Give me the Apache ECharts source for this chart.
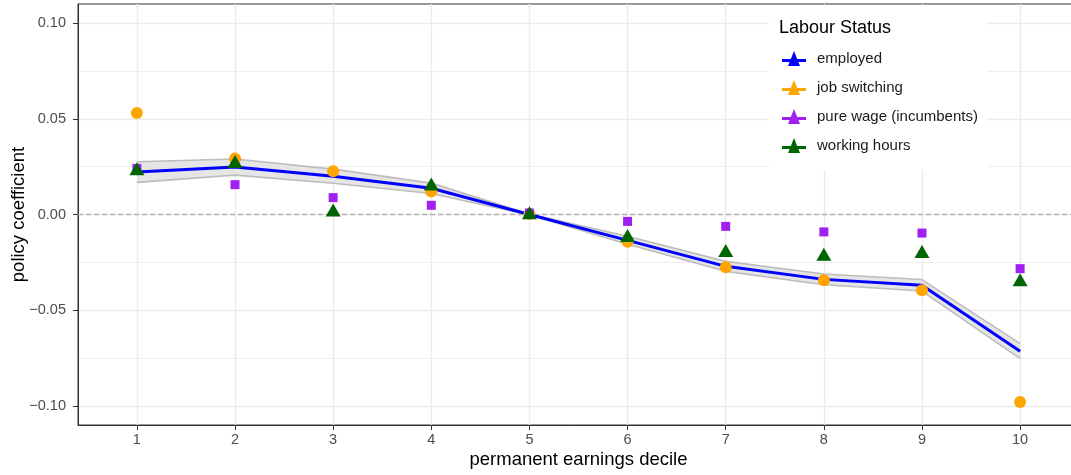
<!DOCTYPE html>
<html>
<head>
<meta charset="utf-8">
<script src="https://cdn.jsdelivr.net/npm/echarts@6/dist/echarts.min.js"></script>
<style>
  html, body { margin: 0; padding: 0; background: #ffffff; }
  #chart { width: 1071px; height: 475px; }
</style>
</head>
<body>
<div id="chart"></div>
<script>
// Policy coefficients by permanent earnings decile
const deciles = [1, 2, 3, 4, 5, 6, 7, 8, 9, 10];
const employed = [0.0222, 0.0248, 0.0200, 0.0137, 0.0000, -0.0135, -0.0271, -0.0339, -0.0370, -0.0714];
const employedLower = [0.0168, 0.0206, 0.0163, 0.0110, -0.0003, -0.0156, -0.0297, -0.0367, -0.0400, -0.0753];
const employedUpper = [0.0276, 0.0290, 0.0237, 0.0164, 0.0003, -0.0114, -0.0245, -0.0311, -0.0340, -0.0675];
const jobSwitching = [0.0530, 0.0292, 0.0226, 0.0120, 0.0002, -0.0143, -0.0276, -0.0344, -0.0396, -0.0980];
const pureWage = [0.0241, 0.0156, 0.0088, 0.0048, 0.0008, -0.0036, -0.0062, -0.0091, -0.0097, -0.0283];
const workingHours = [0.0227, 0.0266, 0.0012, 0.0148, -0.0002, -0.0121, -0.0200, -0.0219, -0.0205, -0.0353];
const yTicks = [-0.1, -0.05, 0, 0.05, 0.1];
const yMinorTicks = [-0.075, -0.025, 0.025, 0.075];
const seriesNames = ['employed', 'job switching', 'pure wage (incumbents)', 'working hours'];

const pairs = (ys) => deciles.map((d, i) => [d, ys[i]]);
const fmtY = (v) => (v < 0 ? '\u2212' : '') + Math.abs(v).toFixed(2);

// legend key: a short line with a triangle on it
const keyIcon = 'path://M0,8 L24,8 L24,11 L0,11 Z M12,0 L18,15 L6,15 Z';

const gridColor = '#ebebeb';
const textGrey = '#4d4d4d';
const font = 'Liberation Sans, Arial, sans-serif';

const chart = echarts.init(document.getElementById('chart'), null, { renderer: 'canvas' });

chart.setOption({
  animation: false,
  backgroundColor: '#ffffff',
  textStyle: { fontFamily: font },
  grid: {
    left: 78, width: 1001, top: 4, bottom: 50,
    outerBoundsMode: 'none', containLabel: false,
    show: true, borderColor: '#333333', borderWidth: 1, backgroundColor: 'transparent'
  },
  title: {
    text: 'Labour Status', left: 774, top: 14,
    textStyle: { fontSize: 18, fontWeight: 'normal', color: '#000000', fontFamily: font }
  },
  legend: {
    data: seriesNames,
    orient: 'vertical', left: 777, top: 46,
    icon: keyIcon, itemWidth: 24, itemHeight: 15, itemGap: 14,
    textStyle: { fontSize: 15, color: '#1a1a1a', padding: [0, 0, 0, 6] },
    selectedMode: false, z: 10
  },
  graphic: [{
    type: 'rect', z: 1,
    shape: { x: 769, y: 5, width: 218, height: 165 },
    style: { fill: '#ffffff' }
  }],
  xAxis: [{
    type: 'value', min: 0.4, max: 10.6,
    name: 'permanent earnings decile', nameLocation: 'middle', nameGap: 25,
    nameMoveOverlap: false,
    nameTextStyle: { fontSize: 18.5, color: '#000000' },
    axisLine: { show: true, onZero: false, lineStyle: { color: '#333333', width: 1 } },
    axisTick: { show: true, length: 5, customValues: deciles, lineStyle: { color: '#333333' } },
    axisLabel: { customValues: deciles, color: textGrey, fontSize: 14.5, margin: 7 },
    splitLine: { show: true, lineStyle: { color: gridColor, width: 1.4 } }
  }],
  yAxis: [{
    type: 'value', min: -0.11, max: 0.11,
    name: 'policy coefficient', nameLocation: 'middle', nameGap: 50,
    nameMoveOverlap: false,
    nameTextStyle: { fontSize: 18.5, color: '#000000' },
    axisLine: { show: true, onZero: false, lineStyle: { color: '#333333', width: 1 } },
    axisTick: { show: true, length: 5, customValues: yTicks, lineStyle: { color: '#333333' } },
    axisLabel: { customValues: yTicks, formatter: fmtY, color: textGrey, fontSize: 14.5, margin: 12 },
    splitLine: { show: true, lineStyle: { color: gridColor, width: 1.4 } }
  }, {
    type: 'value', min: -0.11, max: 0.11, position: 'left',
    axisLine: { show: false },
    axisTick: { show: false, customValues: yMinorTicks },
    axisLabel: { show: false, customValues: yMinorTicks },
    splitLine: { show: true, lineStyle: { color: gridColor, width: 0.8 } }
  }],
  series: [
    {
      // confidence band of the employed estimate
      type: 'custom', name: 'band', silent: true, z: 1,
      data: deciles.map((d, i) => [d, employedLower[i], employedUpper[i]]),
      encode: { x: 0, y: [1, 2] },
      renderItem: (params, api) => {
        if (params.dataIndex !== 0) return null;
        const pts = [];
        deciles.forEach((d, i) => pts.push(api.coord([d, employedUpper[i]])));
        for (let i = deciles.length - 1; i >= 0; i--) pts.push(api.coord([deciles[i], employedLower[i]]));
        return { type: 'polygon', shape: { points: pts }, style: { fill: '#e5e5e5', stroke: null } };
      }
    },
    {
      type: 'line', name: 'upper', data: pairs(employedUpper), symbol: 'none', silent: true, z: 2,
      lineStyle: { color: '#bdbdbd', width: 1.6 }
    },
    {
      type: 'line', name: 'lower', data: pairs(employedLower), symbol: 'none', silent: true, z: 2,
      lineStyle: { color: '#bdbdbd', width: 1.6 }
    },
    {
      type: 'line', name: 'employed', data: pairs(employed), symbol: 'none', z: 3,
      color: '#0000ff',
      lineStyle: { color: '#0000ff', width: 3 },
      markLine: {
        silent: true, symbol: 'none', label: { show: false }, z: 1,
        lineStyle: { color: '#b3b3b3', type: [5, 3], width: 1.3 },
        data: [{ yAxis: 0 }]
      }
    },
    {
      type: 'scatter', name: 'job switching', data: pairs(jobSwitching), z: 4,
      symbol: 'circle', symbolSize: 12, itemStyle: { color: '#ffa500', opacity: 1 }
    },
    {
      type: 'scatter', name: 'pure wage (incumbents)', data: pairs(pureWage), z: 5,
      symbol: 'rect', symbolSize: 9, itemStyle: { color: '#a020f0', opacity: 1 }
    },
    {
      type: 'scatter', name: 'working hours', data: pairs(workingHours), z: 6,
      symbol: 'triangle', symbolSize: [15, 13], symbolOffset: [0, -2.2],
      itemStyle: { color: '#006400', opacity: 1 }
    }
  ]
});
</script>
</body>
</html>
